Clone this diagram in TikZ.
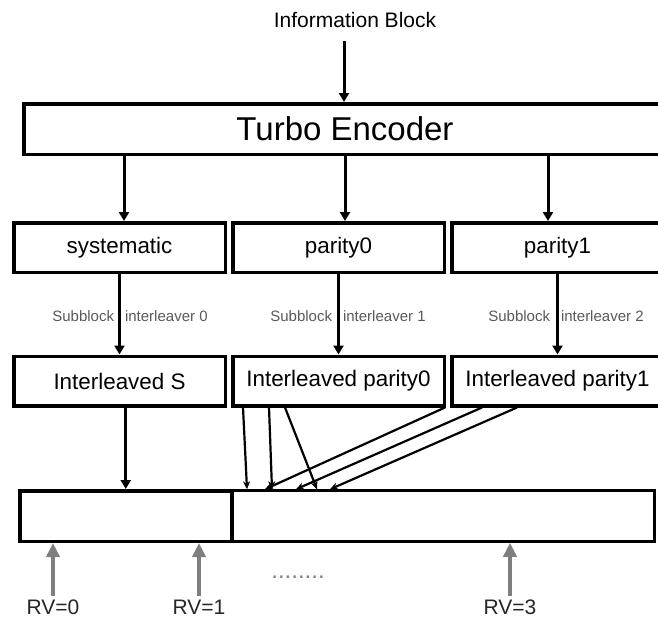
\documentclass[tikz,border=0pt]{standalone}
\usepackage{fontspec}
\setmainfont{Liberation Sans}
\usepackage{tikz}
\usetikzlibrary{positioning,calc,arrows.meta}

\definecolor{rvgray}{HTML}{7F7F7F}
\definecolor{subgray}{HTML}{595959}

\tikzset{
  blk/.style={draw, line width=3.5pt, minimum width=211.5pt, minimum height=49.5pt,
    inner sep=0pt, font=\fontsize{22.4}{26}\selectfont},
  arr/.style={line width=3pt, -{Triangle[length=9pt,width=10pt]}},
  fan/.style={line width=2.2pt, -{Stealth[length=8pt,width=7pt]}},
  rvarr/.style={line width=4pt, draw=rvgray, -{Triangle[length=14pt,width=13pt]}},
  sublbl/.style={text=subgray, font=\fontsize{15}{18}\selectfont},
  rvlbl/.style={text=black!85, font=\fontsize{21}{25}\selectfont},
}

\begin{document}
\begin{tikzpicture}[x=1pt,y=-1pt,node distance=4pt]
   \useasboundingbox (0,0) rectangle (658,619);
   \clip (0,0) rectangle (658,619);
   \node[font=\fontsize{21}{25}\selectfont] (info) at (355,20) {Information Block};
   \node[blk, minimum width=642.5pt, minimum height=50.5pt,
         font=\fontsize{33}{38}\selectfont] (turbo) at (345,129) {Turbo Encoder};
   % coded streams
   \node[blk] (sys) at (119.5,247.5) {systematic};
   \node[blk] (par0) [right=of sys] {parity0};
   \node[blk] (par1) [right=of par0] {parity1};
   % interleaved streams
   \node[blk] (isys) at (119.5,381) {Interleaved S};
   \node[blk] (ipar0) [right=of isys] {Interleaved parity0};
   \node[blk] (ipar1) [right=of ipar0] {Interleaved parity1};
   % circular buffer
   \node[draw, line width=3.5pt, minimum width=212pt, minimum height=50.5pt] (buf0) at (125.75,516) {};
   \node[draw, line width=3pt, minimum width=422.5pt, minimum height=50.5pt] (buf1) [right=-3pt of buf0] {};
   % interleaver labels
   \node[sublbl] (sub0) at ($(sys)!.5!(isys)+(10.5,2)$) {Subblock\hspace{11pt}interleaver 0};
   \node[sublbl] (sub1) at ($(par0)!.5!(ipar0)+(9.5,2)$) {Subblock\hspace{11pt}interleaver 1};
   \node[sublbl] (sub2) at ($(par1)!.5!(ipar1)+(8.5,2)$) {Subblock\hspace{11pt}interleaver 2};
   % redundancy versions
   \node[rvlbl] (rv0) at (53,607) {RV=0};
   \node[rvlbl] (rv1) at (199,607) {RV=1};
   \node[rvlbl] (rv3) at (510,607) {RV=3};
   \node[text=rvgray, font=\fontsize{24}{28}\selectfont] (dots) at (298,577) {........};

   \draw[arr] ($(info.south)+(-11,10)$) -- ($(turbo.north)+(-1,0)$);
   \draw[arr] ($(sys.north |- turbo.south)+(4.5,0)$) -- ($(sys.north)+(4.5,0)$);
   \draw[arr] (turbo.south) -- (turbo.south |- par0.north);
   \draw[arr] ($(par1.north |- turbo.south)+(-9.5,0)$) -- ($(par1.north)+(-9.5,0)$);
   \path[arr]
	(sys) edge (isys)
	(par0) edge (ipar0)
	(par1) edge (ipar1);
   \draw[arr] (isys.south -| buf0) -- (buf0.north);
   % bit collection into the buffer
   \foreach \a/\b in {12/16.5, 38/41.5, 54/86.5}
     \draw[fan] ($(ipar0.south west)+(\a,0)$) -- ($(buf1.north west)+(\b,0)$);
   \foreach \a/\b in {-5/34.5, 32/65.5, 67/99.5}
     \draw[fan] ($(ipar1.south west)+(\a,0)$) -- ($(buf1.north west)+(\b,0)$);
   \draw[rvarr] (rv0.north) -- (rv0.north |- buf0.south);
   \draw[rvarr] (rv1.north) -- (rv1.north |- buf0.south);
   \draw[rvarr] (rv3.north) -- (rv3.north |- buf1.south);
\end{tikzpicture}
\end{document}
